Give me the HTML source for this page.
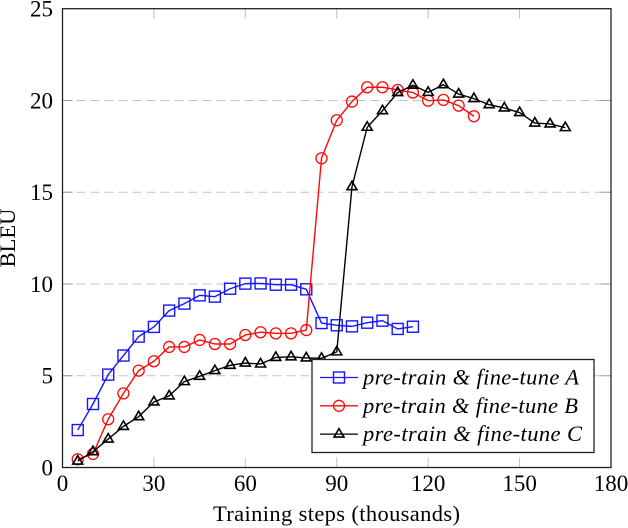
<!DOCTYPE html>
<html>
<head>
<meta charset="utf-8">
<style>
html,body{margin:0;padding:0;background:#fff;}
svg{display:block;}
text{font-family:"Liberation Serif",serif;fill:#000;}
</style>
</head>
<body>
<svg id="chart" width="628" height="528" viewBox="0 0 628 528" xmlns="http://www.w3.org/2000/svg"></svg>
<script>
const xTickLabels = [0, 30, 60, 90, 120, 150, 180];
const yTickLabels = [0, 5, 10, 15, 20, 25];
const stepsA = [5,10,15,20,25,30,35,40,45,50,55,60,65,70,75,80,85,90,95,100,105,110,115];
const valuesA = [2.04,3.46,5.06,6.1,7.13,7.66,8.55,8.93,9.38,9.31,9.74,10.02,10.03,9.96,9.96,9.71,7.87,7.75,7.69,7.89,8.0,7.55,7.67];
const stepsB = [5,10,15,20,25,30,35,40,45,50,55,60,65,70,75,80,85,90,95,100,105,110,115,120,125,130,135];
const valuesB = [0.45,0.74,2.63,4.04,5.28,5.79,6.57,6.57,6.95,6.73,6.73,7.22,7.37,7.31,7.31,7.49,16.85,18.92,19.94,20.72,20.72,20.57,20.43,19.99,20.03,19.72,19.14];
const stepsC = [5,10,15,20,25,30,35,40,45,50,55,60,65,70,75,80,85,90,95,100,105,110,115,120,125,130,135,140,145,150,155,160,165];
const valuesC = [0.35,0.86,1.55,2.24,2.77,3.57,3.9,4.68,4.97,5.28,5.57,5.69,5.64,6.0,6.03,5.97,5.95,6.3,15.3,18.54,19.44,20.43,20.83,20.44,20.86,20.35,20.1,19.77,19.59,19.34,18.77,18.72,18.52];
const legendLabels = ["pre-train & fine-tune A", "pre-train & fine-tune B", "pre-train & fine-tune C"];

const NS = "http://www.w3.org/2000/svg";
const svg = document.getElementById("chart");
const L = 62.5, R = 611, T = 8.7, B = 467.5;
const xMax = 180, yMax = 25;
function xScale(v){ return L + (R - L) * v / xMax; }
function yScale(v){ return B - (B - T) * v / yMax; }
function mk(tag, attrs, parent){
  const el = document.createElementNS(NS, tag);
  for (const k in attrs) el.setAttribute(k, attrs[k]);
  (parent || svg).appendChild(el);
  return el;
}

// grid lines and ticks
yTickLabels.forEach(function(v){
  const y = yScale(v);
  if (v > 0 && v < yMax) {
    const g = mk("line", {x1:L, x2:R, y1:y, y2:y, stroke:"#c4c4c4", "stroke-width":1, "stroke-dasharray":"9 5"});
    
    
    const t1 = mk("line", {x1:L, x2:L+10, y1:y, y2:y, stroke:"#999", "stroke-width":1});
    
    
    const t2 = mk("line", {x1:R-10, x2:R, y1:y, y2:y, stroke:"#999", "stroke-width":1});
    
    
  }
  const lab = mk("text", {x:53, y:y+8, "text-anchor":"end", "font-size":23});
  lab.textContent = String(v);
  
  
});
xTickLabels.forEach(function(v){
  const x = xScale(v);
  if (v > 0 && v < xMax) {
    const t1 = mk("line", {x1:x, x2:x, y1:B-10, y2:B, stroke:"#c0c0c0", "stroke-width":1});
    
    
    const t2 = mk("line", {x1:x, x2:x, y1:T, y2:T+10, stroke:"#c0c0c0", "stroke-width":1});
    
    
  }
  const lab = mk("text", {x:x, y:491, "text-anchor":"middle", "font-size":23});
  lab.textContent = String(v);
  
  
});

function marker(kind, x, y, color, parent){
  if (kind === "square") {
    return mk("rect", {x:x-5.5, y:y-5.5, width:11, height:11, fill:"none", stroke:color, "stroke-width":1.4}, parent);
  }
  if (kind === "circle") {
    return mk("circle", {cx:x, cy:y, r:5.5, fill:"none", stroke:color, "stroke-width":1.3}, parent);
  }
  return mk("polygon", {points:(x)+","+(y-5.5)+" "+(x+5)+","+(y+3)+" "+(x-5)+","+(y+3), fill:"none", stroke:color, "stroke-width":1.6}, parent);
}

function drawSeries(xs, ys, color, kind, name){
  const g = mk("g", {});
  
  
  const pts = xs.map(function(v, i){ return xScale(v) + "," + yScale(ys[i]); }).join(" ");
  const line = mk("polyline", {points:pts, fill:"none", stroke:color, "stroke-width":1.4, "stroke-linejoin":"round"}, g);
  
  
  xs.forEach(function(v, i){
    const m = marker(kind, xScale(v), yScale(ys[i]), color, g);
    
    
  });
}
drawSeries(stepsA, valuesA, "#1515ff", "square", "series-a");
drawSeries(stepsB, valuesB, "#ff0808", "circle", "series-b");
drawSeries(stepsC, valuesC, "#000000", "triangle", "series-c");

// axis frame
const frame = mk("rect", {x:L, y:T, width:R-L, height:B-T, fill:"none", stroke:"#222", "stroke-width":1.3});



// legend
const legend = mk("g", {});


const legendBox = mk("rect", {x:312, y:359.5, width:282, height:93, fill:"#fff", stroke:"#222", "stroke-width":1.3}, legend);


const legendKinds = ["square", "circle", "triangle"];
const legendColors = ["#1515ff", "#ff0808", "#000000"];
legendLabels.forEach(function(label, i){
  const y = 377.5 + i * 28.3;
  const ln = mk("line", {x1:320, x2:358, y1:y, y2:y, stroke:legendColors[i], "stroke-width":1.3}, legend);
  
  
  const mkr = marker(legendKinds[i], 339, y, legendColors[i], legend);
  
  
  const t = mk("text", {x:363, y:y+7, "font-size":22.5, "font-style":"italic", textLength:[216,215,219][i], lengthAdjust:"spacing"}, legend);
  t.textContent = label;
  
  
});

// axis titles
const xTitle = mk("text", {x:336.5, y:521, "text-anchor":"middle", "font-size":22.5, textLength:247, lengthAdjust:"spacing"});
xTitle.textContent = "Training steps (thousands)";


const yTitle = mk("text", {x:0, y:0, "text-anchor":"middle", "font-size":22.5, transform:"translate(15,238) rotate(-90)"});
yTitle.textContent = "BLEU";


</script>
</body>
</html>
